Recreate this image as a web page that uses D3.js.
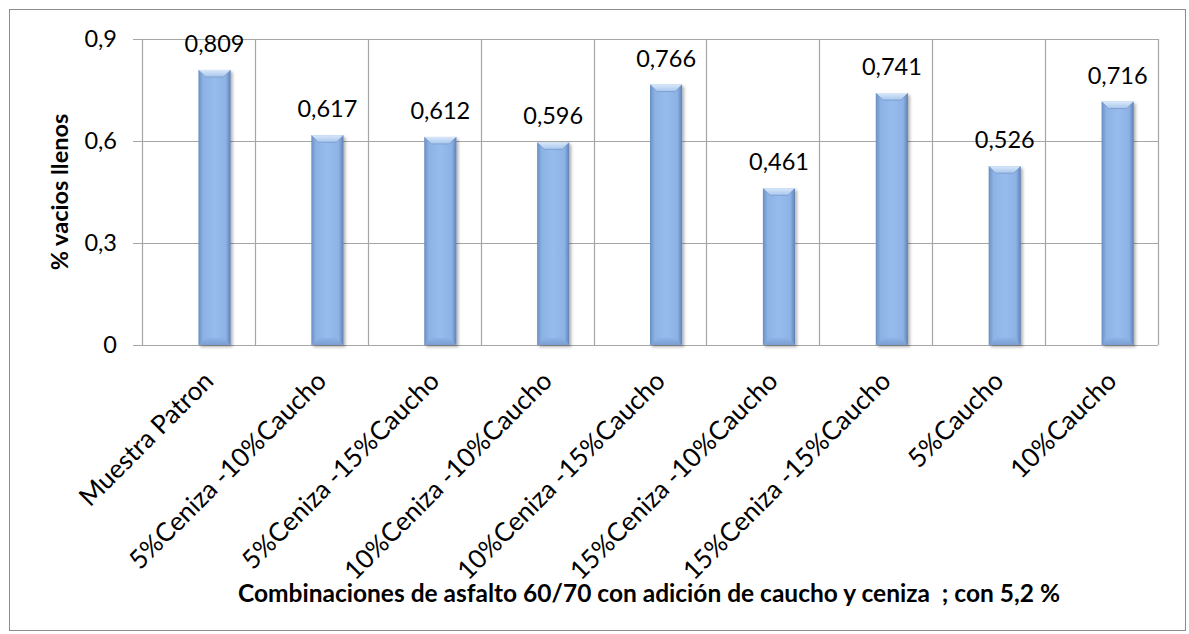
<!DOCTYPE html>
<html>
<head>
<meta charset="utf-8">
<script src="https://cdn.jsdelivr.net/npm/d3@7/dist/d3.min.js"></script>
<style>
  html, body { margin: 0; padding: 0; background: #ffffff; }
  svg { display: block; }
  text { font-family: Lato, "Open Sans", sans-serif; fill: #000; white-space: pre; }
  text.title { font-weight: bold; }
</style>
</head>
<body>
<script>
// Mixture combinations and measured filled-voids ratio
const categories = [
  "Muestra Patron",
  "5%Ceniza -10%Caucho",
  "5%Ceniza -15%Caucho",
  "10%Ceniza -10%Caucho",
  "10%Ceniza -15%Caucho",
  "15%Ceniza -10%Caucho",
  "15%Ceniza -15%Caucho",
  "5%Caucho",
  "10%Caucho"
];
const values = [0.809, 0.617, 0.612, 0.596, 0.766, 0.461, 0.741, 0.526, 0.716];
const yTicks = [0, 0.3, 0.6, 0.9];
const yTitle = "% vacios llenos";
const xTitle = "Combinaciones de asfalto 60/70 con adición de caucho y ceniza  ; con 5,2 %";

const W = 1189, H = 634;
const plot = { left: 142, right: 1158, top: 39, bottom: 345 };

const locale = d3.formatLocale({ decimal: ",", thousands: ".", grouping: [3], currency: ["", ""] });
const fmtValue = locale.format(".3f");
const fmtTick = d => d === 0 ? "0" : locale.format(".1f")(d);

const svg = d3.select("body").append("svg").attr("width", W).attr("height", H);
const defs = svg.append("defs");

// Horizontal body gradient for the columns
const body = defs.append("linearGradient").attr("id", "barBody").attr("x1", 0).attr("x2", 1).attr("y1", 0).attr("y2", 0);
[[0, "#6a8fc3"], [0.15, "#8db3e6"], [0.5, "#96bbec"], [0.85, "#8db3e6"], [1, "#5f81b4"]]
  .forEach(([o, c]) => body.append("stop").attr("offset", o).attr("stop-color", c));

const topBevel = defs.append("linearGradient").attr("id", "barTop").attr("x1", 0).attr("x2", 0).attr("y1", 0).attr("y2", 1);
[[0, "#d9e8f9"], [1, "#a6c6ee"]].forEach(([o, c]) => topBevel.append("stop").attr("offset", o).attr("stop-color", c));

const botBevel = defs.append("linearGradient").attr("id", "barBot").attr("x1", 0).attr("x2", 0).attr("y1", 0).attr("y2", 1);
[[0, "#8db2e4"], [1, "#7b9fd3"]].forEach(([o, c]) => botBevel.append("stop").attr("offset", o).attr("stop-color", c));

const shadow = defs.append("filter").attr("id", "shadow").attr("x", "-30%").attr("y", "-10%").attr("width", "160%").attr("height", "130%");
shadow.append("feDropShadow").attr("dx", 2).attr("dy", 2).attr("stdDeviation", 1.6).attr("flood-color", "#000").attr("flood-opacity", 0.3);

// Outer chart border
svg.append("rect")
  .attr("x", 9.5).attr("y", 9.5).attr("width", 1176).attr("height", 621)
  .attr("fill", "#fff").attr("stroke", "#8c8c8c").attr("stroke-width", 1);

const x = d3.scaleBand().domain(categories).range([plot.left, plot.right]).padding(0);
const y = d3.scaleLinear().domain([0, 0.9]).range([plot.bottom, plot.top]);

const gridColor = "#a6a6a6";

// Horizontal gridlines with small outer ticks
svg.append("g").selectAll("line").data(yTicks).join("line")
  .attr("x1", plot.left - 9).attr("x2", plot.right)
  .attr("y1", d => Math.round(y(d)) + 0.5).attr("y2", d => Math.round(y(d)) + 0.5)
  .attr("stroke", gridColor).attr("stroke-width", 1.2);

// Vertical category separators
const bounds = categories.map(c => x(c)).concat([plot.right]);
svg.append("g").selectAll("line").data(bounds).join("line")
  .attr("x1", d => Math.round(d) + 0.5).attr("x2", d => Math.round(d) + 0.5)
  .attr("y1", plot.top).attr("y2", plot.bottom)
  .attr("stroke", gridColor).attr("stroke-width", 1.2);

// Y tick labels
svg.append("g").selectAll("text").data(yTicks).join("text")
  .attr("x", 117).attr("y", d => y(d)).attr("dy", "0.36em")
  .attr("text-anchor", "end").attr("font-size", 23.5)
  .text(fmtTick);

// Columns
const barOffset = x.bandwidth() * 0.5;
const barW = x.bandwidth() * 0.285;
const bev = 7;
const bars = svg.append("g").selectAll("g").data(categories).join("g")
  .attr("transform", (c, i) => `translate(${x(c) + barOffset},${y(values[i])})`);

bars.append("rect")
  .attr("width", barW).attr("height", (c, i) => y(0) - y(values[i]))
  .attr("fill", "url(#barBody)").attr("filter", "url(#shadow)");

bars.append("path")
  .attr("d", `M0,0 L${barW},0 L${barW - bev},${bev} L${bev},${bev} Z`)
  .attr("fill", "url(#barTop)");
bars.append("path")
  .attr("d", `M0.5,0.5 L${bev},${bev} L${barW - bev},${bev} L${barW - 0.5},0.5`)
  .attr("stroke", "#7898c6").attr("stroke-width", 0.8).attr("fill", "none");

bars.append("path")
  .attr("d", (c, i) => {
    const h = y(0) - y(values[i]);
    return `M0,${h} L${barW},${h} L${barW - bev},${h - bev} L${bev},${h - bev} Z`;
  })
  .attr("fill", "url(#barBot)");

// Value labels
svg.append("g").selectAll("text").data(categories).join("text")
  .attr("x", c => x(c) + barOffset + barW / 2)
  .attr("y", (c, i) => y(values[i]) - 18)
  .attr("text-anchor", "middle").attr("font-size", 23.5)
  .text((c, i) => fmtValue(values[i]));

// Rotated category labels
svg.append("g").selectAll("text").data(categories).join("text")
  .attr("transform", c => `translate(${x(c) + x.bandwidth() / 2 + 10},${376}) rotate(-45)`)
  .attr("text-anchor", "end").attr("dy", "0.36em").attr("font-size", 26)
  .text(c => c);

// Axis titles
svg.append("text").attr("class", "title")
  .attr("transform", `translate(60,${(plot.top + plot.bottom) / 2}) rotate(-90)`)
  .attr("text-anchor", "middle").attr("dy", "0.36em")
  .attr("font-size", 23.5)
  .text(yTitle);

svg.append("text").attr("class", "title")
  .attr("x", (plot.left + plot.right) / 2 - 1).attr("y", 602)
  .attr("text-anchor", "middle")
  .attr("font-size", 24.5)
  .text(xTitle);
</script>
</body>
</html>
